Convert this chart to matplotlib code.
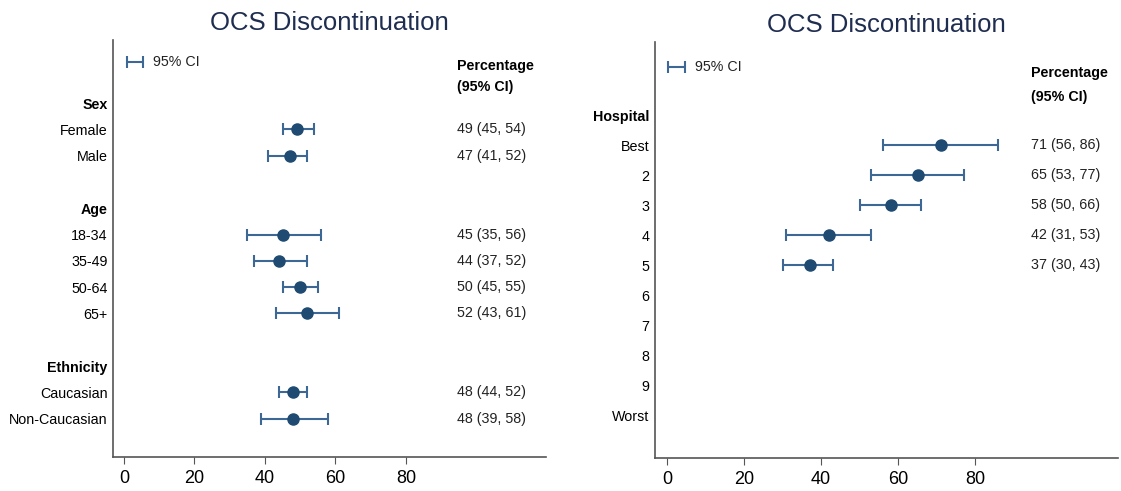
import matplotlib
matplotlib.use("Agg")
import matplotlib.pyplot as plt

plt.rcParams['font.family'] = ['Liberation Sans', 'DejaVu Sans']

# Left panel data
left_labels = ["Sex", "Female", "Male", "Age", "18-34", "35-49", "50-64", "65+",
               "Ethnicity", "Caucasian", "Non-Caucasian"]
left_rows = [0, 1, 2, 4, 5, 6, 7, 8, 10, 11, 12]
left_headers = ["Sex", "Age", "Ethnicity"]
left_cats = ["Female", "Male", "18-34", "35-49", "50-64", "65+", "Caucasian", "Non-Caucasian"]
left_est = [49, 47, 45, 44, 50, 52, 48, 48]
left_lo = [45, 41, 35, 37, 45, 43, 44, 39]
left_hi = [54, 52, 56, 52, 55, 61, 52, 58]

# Right panel data
right_labels = ["Hospital", "Best", "2", "3", "4", "5", "6", "7", "8", "9", "Worst"]
right_rows = list(range(11))
right_headers = ["Hospital"]
right_cats = ["Best", "2", "3", "4", "5"]
right_est = [71, 65, 58, 42, 37]
right_lo = [56, 53, 50, 31, 30]
right_hi = [86, 77, 66, 53, 43]

xticks = [0, 20, 40, 60, 80]

MARK = "#1f4a72"
BAR = "#3d6794"
TITLE = "#1f2d50"

fig = plt.figure(figsize=(11.21, 4.91), dpi=100)


def panel(rect, labels, rows, headers, cats, est, lo, hi, ylim, xlim, leg_y, pct_y, leg_x, leg_tx):
    ax = fig.add_axes(rect)
    rowmap = dict(zip(labels, rows))
    ys = [rowmap[c] for c in cats]
    xerr = [[e - l for e, l in zip(est, lo)], [h - e for e, h in zip(est, hi)]]
    ax.errorbar(est, ys, xerr=xerr, fmt='o', color=MARK, ecolor=BAR,
                elinewidth=1.5, capsize=4, capthick=1.5, markersize=8, zorder=3)
    for y, e, l, h in zip(ys, est, lo, hi):
        ax.text(94.5, y, f"{e} ({l}, {h})", va='center', ha='left', fontsize=10.3, color='#222222')
    ax.text(94.5, pct_y[0], "Percentage", va='center', ha='left', fontsize=10.3, fontweight='bold')
    ax.text(94.5, pct_y[1], "(95% CI)", va='center', ha='left', fontsize=10.3, fontweight='bold')
    # legend
    ax.errorbar([leg_x], [leg_y], xerr=[[2.2], [2.2]], fmt='none', ecolor=BAR,
                elinewidth=1.5, capsize=4, capthick=1.5)
    ax.text(leg_tx, leg_y, "95% CI", va='center', ha='left', fontsize=10.3, color='#222222')
    ax.set_yticks(rows)
    ax.set_yticklabels(labels, fontsize=10.3)
    for t in ax.get_yticklabels():
        if t.get_text() in headers:
            t.set_fontweight('bold')
    ax.tick_params(axis='y', length=0, pad=4)
    ax.set_xticks(xticks)
    ax.set_xticklabels([str(v) for v in xticks], fontsize=13)
    ax.tick_params(axis='x', length=5, color='#555555', pad=4)
    ax.set_xlim(*xlim)
    ax.set_ylim(*ylim)
    for s in ['top', 'right']:
        ax.spines[s].set_visible(False)
    for s in ['left', 'bottom']:
        ax.spines[s].set_color('#555555')
        ax.spines[s].set_linewidth(1.2)
    ax.set_title("OCS Discontinuation", fontsize=18.5, color=TITLE, pad=7)
    return ax


panel([0.1008, 0.0692, 0.3862, 0.8493], left_labels, left_rows, left_headers,
      left_cats, left_est, left_lo, left_hi, (13.46, -2.4), (-3.1, 119.7), -1.56, (-1.4, -0.6),
      3.1, 8.2)
panel([0.5843, 0.0672, 0.4130, 0.8473], right_labels, right_rows, right_headers,
      right_cats, right_est, right_lo, right_hi, (11.4, -2.43), (-3.1, 117), -1.6, (-1.4, -0.6),
      2.4, 7.3)

fig.savefig("out.png", dpi=100)
